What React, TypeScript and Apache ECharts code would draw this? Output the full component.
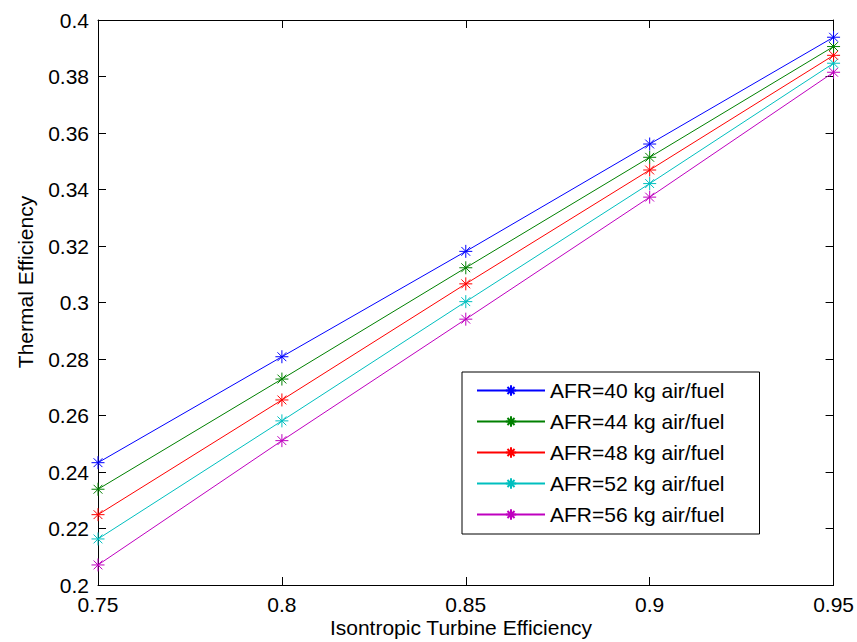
import React, { useEffect, useRef } from "react";
import * as echarts from "echarts";

const xValues = [0.75, 0.8, 0.85, 0.9, 0.95];
const seriesNames = [
  "AFR=40 kg air/fuel",
  "AFR=44 kg air/fuel",
  "AFR=48 kg air/fuel",
  "AFR=52 kg air/fuel",
  "AFR=56 kg air/fuel",
];
const afr40 = [0.2433, 0.2808, 0.3181, 0.3561, 0.3939];
const afr44 = [0.2339, 0.2729, 0.3123, 0.3514, 0.3906];
const afr48 = [0.2249, 0.2655, 0.3066, 0.3469, 0.3875];
const afr52 = [0.2163, 0.2581, 0.3003, 0.3421, 0.3847];
const afr56 = [0.2071, 0.2511, 0.2941, 0.3373, 0.3815];
const seriesColors = ["#0000ff", "#008000", "#ff0000", "#00bfbf", "#bf00bf"];

const FONT = "'Liberation Sans', Arial, Helvetica, sans-serif";
const ASTERISK = "path://M5,0L5,10M0,5L10,5M1.6,1.6L8.4,8.4M1.6,8.4L8.4,1.6";

export default function App() {
  const ref = useRef<HTMLDivElement>(null);
  useEffect(() => {
    if (!ref.current) return;
    const chart = echarts.init(ref.current, null, { renderer: "svg" });
    const all = [afr40, afr44, afr48, afr52, afr56];
    const axisCommon = {
      axisLine: { show: true, lineStyle: { color: "#000", width: 1 } },
      splitLine: { show: false },
    };
    const tick = { show: true, inside: true, length: 8, lineStyle: { color: "#000" } };
    const fmt = (v: number) => String(+v.toFixed(2));
    chart.setOption({
      animation: false,
      backgroundColor: "#fff",
      textStyle: { fontFamily: FONT },
      grid: { left: 98, top: 20, right: 23, bottom: 57, show: false },
      xAxis: [
        {
          type: "value", min: 0.75, max: 0.95, interval: 0.05, position: "bottom",
          ...axisCommon, axisTick: tick,
          axisLabel: { color: "#000", fontSize: 21, lineHeight: 16, margin: 11, fontFamily: FONT, formatter: fmt },
        },
        {
          type: "value", min: 0.75, max: 0.95, interval: 0.05, position: "top",
          ...axisCommon, axisTick: tick, axisLabel: { show: false },
        },
      ],
      yAxis: [
        {
          type: "value", min: 0.2, max: 0.4, interval: 0.02, position: "left",
          ...axisCommon, axisTick: tick,
          axisLabel: { color: "#000", fontSize: 21, lineHeight: 16, margin: 9, fontFamily: FONT, formatter: fmt },
        },
        {
          type: "value", min: 0.2, max: 0.4, interval: 0.02, position: "right",
          ...axisCommon, axisTick: tick, axisLabel: { show: false },
        },
      ],
      legend: {
        orient: "vertical",
        left: 462,
        top: 372,
        backgroundColor: "#fff",
        borderColor: "#000",
        borderWidth: 1,
        borderRadius: 0,
        padding: [8, 35, 9, 14],
        itemWidth: 68,
        itemHeight: 13,
        itemGap: 10,
        textStyle: { color: "#000", fontSize: 21, fontFamily: FONT },
        data: seriesNames,
      },
      graphic: [
        {
          type: "text", x: 25, y: 282, rotation: Math.PI / 2,
          style: {
            text: "Thermal Efficiency", fill: "#000", fontSize: 21, fontFamily: FONT,
            textAlign: "center", textVerticalAlign: "middle",
          },
        },
        {
          type: "text", x: 461, y: 627,
          style: {
            text: "Isontropic Turbine Efficiency", fill: "#000", fontSize: 21, fontFamily: FONT,
            textAlign: "center", textVerticalAlign: "middle",
          },
        },
      ],
      series: seriesNames.map((name, i) => ({
        name,
        type: "line",
        xAxisIndex: 0,
        yAxisIndex: 0,
        data: xValues.map((x, j) => [x, all[i][j]]),
        color: seriesColors[i],
        symbol: ASTERISK,
        symbolSize: 13,
        showAllSymbol: true,
        lineStyle: { width: 1, color: seriesColors[i] },
        itemStyle: { color: "none", borderColor: seriesColors[i], borderWidth: 1 },
        emphasis: { disabled: true },
        z: 10 - i,
      })),
    });
    return () => chart.dispose();
  }, []);
  return (
    <div ref={ref} style={{ position: "fixed", left: 0, top: 0, width: 857, height: 642 }} />
  );
}
